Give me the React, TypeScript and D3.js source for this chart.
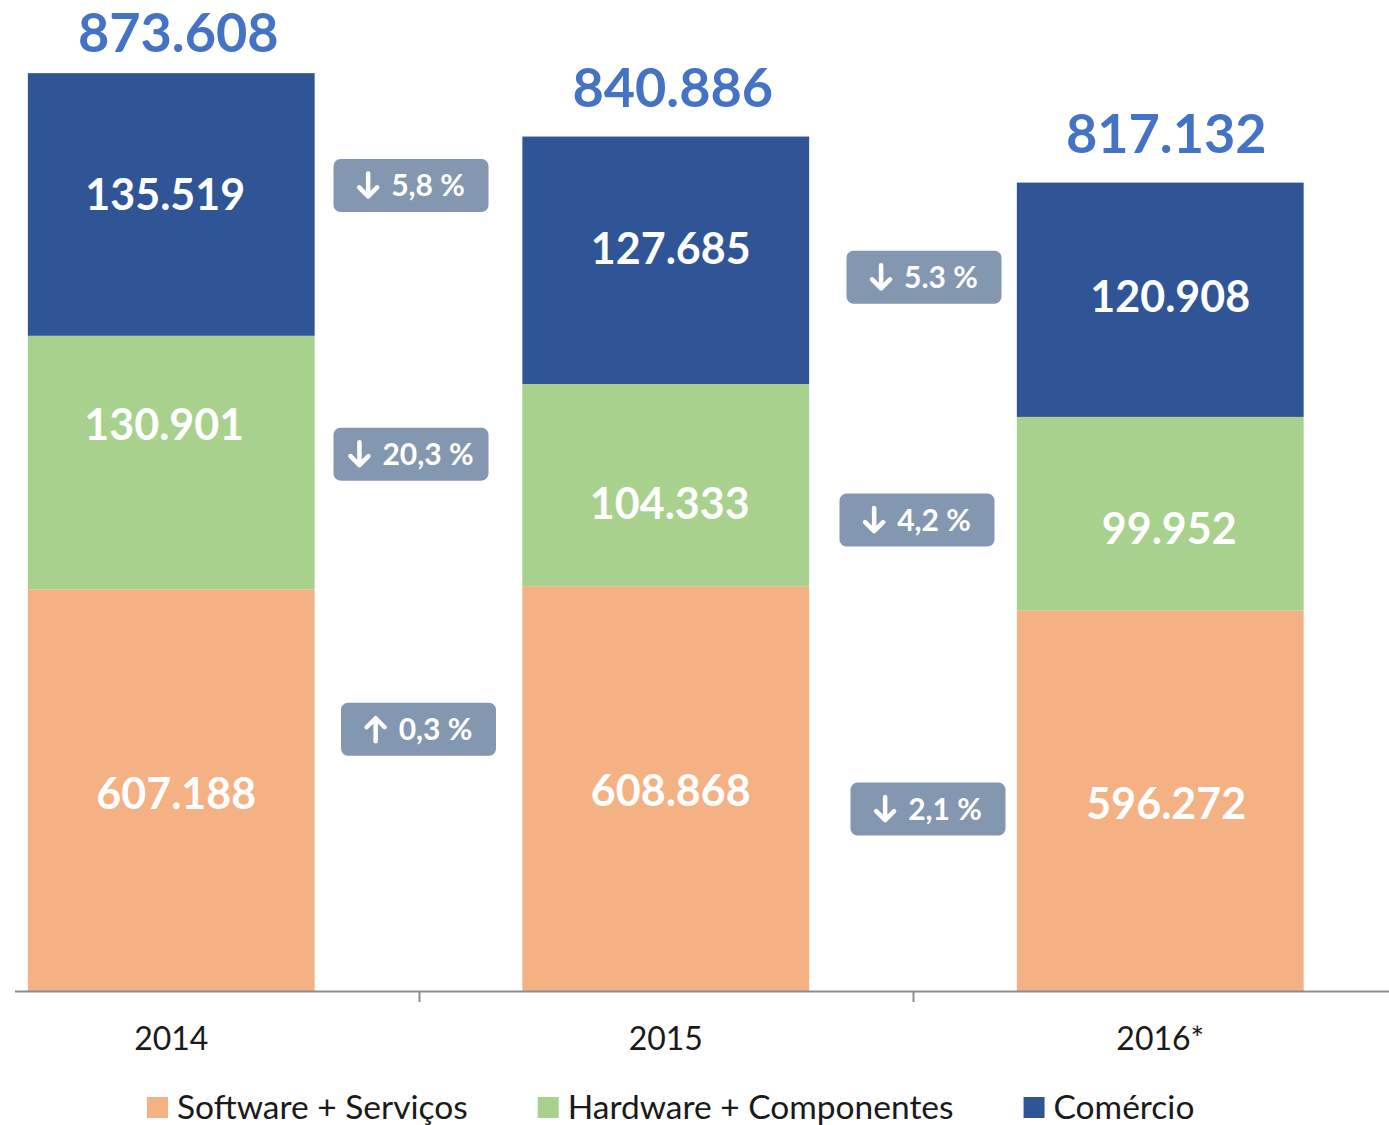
import React, { useEffect, useRef } from 'react';
import * as d3 from 'd3';

const years = ['2014', '2015', '2016*'];
const software = [607.188, 608.868, 596.272];
const hardware = [130.901, 104.333, 99.952];
const comercio = [135.519, 127.685, 120.908];
const totals = [873.608, 840.886, 817.132];
const seriesKeys = ['software', 'hardware', 'comercio'];
const seriesNames = ['Software + Serviços', 'Hardware + Componentes', 'Comércio'];
const seriesColors = ['#F4B183', '#A9D18E', '#2F5597'];
// year-over-year change badges (between consecutive years)
const changeText = {
  software: ['0,3 %', '2,1 %'],
  hardware: ['20,3 %', '4,2 %'],
  comercio: ['5,8 %', '5.3 %'],
};
const changeDir = {
  software: ['up', 'down'],
  hardware: ['down', 'down'],
  comercio: ['down', 'down'],
};
const yMin = 400;
const yMax = 900;

// layout tweaks (pixels) for hand-placed labels
const labelDx = {
  software: [5, 5, 6],
  hardware: [-7, 4, 9],
  comercio: [-6, 5, 10],
};
const labelDy = {
  software: [3, 2, 3],
  hardware: [-38, 18, 15],
  comercio: [-10, -12, -3],
};
const totalDy = [-21, -30, -30];
const totalDx = [7, 7, 6];
const badgeDx = {
  software: [0, 15],
  hardware: [-7.5, 4],
  comercio: [-7.5, 11],
};
const badgeDy = {
  software: [-61, 20.5],
  hardware: [-8.5, 35],
  comercio: [-19, 17],
};

export default function App() {
  const ref = useRef<SVGSVGElement>(null);
  useEffect(() => {
    const svg = d3.select(ref.current);
    svg.selectAll('*').remove();
    const font = "Lato, 'Open Sans', sans-serif";
    const baseY = 991;

    const x = d3.scaleBand<string>().domain(years).range([-76, 1407.5]).paddingInner(0.42).paddingOuter(0.21);
    const y = d3.scaleLinear().domain([yMin, yMax]).range([baseY, 22]).clamp(true);
    const fmt = d3.format('.3f');

    const rows = years.map((yr, i) => ({ year: yr, software: software[i], hardware: hardware[i], comercio: comercio[i] }));
    const stack = d3.stack<any>().keys(seriesKeys);
    const series = stack(rows);

    const g = svg.append('g');
    series.forEach((s, si) => {
      const key = seriesKeys[si];
      g.selectAll(null)
        .data(s)
        .enter()
        .append('rect')
        .attr('x', (d: any) => x(d.data.year)!)
        .attr('width', x.bandwidth())
        .attr('y', (d: any) => y(d[1]))
        .attr('height', (d: any) => y(d[0]) - y(d[1]))
        .attr('fill', seriesColors[si]);

      g.selectAll(null)
        .data(s)
        .enter()
        .append('text')
        .attr('x', (d: any, i: number) => x(d.data.year)! + x.bandwidth() / 2 + (labelDx as any)[key][i])
        .attr('y', (d: any, i: number) => (y(d[0]) + y(d[1])) / 2 + (labelDy as any)[key][i] + 15.5)
        .attr('text-anchor', 'middle')
        .attr('font-family', font)
        .attr('font-weight', 700)
        .attr('font-size', 43)
        .attr('fill', '#fff')
        .text((d: any) => fmt(d.data[key]));
    });

    // totals
    g.selectAll(null)
      .data(totals)
      .enter()
      .append('text')
      .attr('x', (d, i) => x(years[i])! + x.bandwidth() / 2 + totalDx[i])
      .attr('y', (d, i) => y(d) + totalDy[i])
      .attr('text-anchor', 'middle')
      .attr('font-family', font)
      .attr('font-weight', 700)
      .attr('font-size', 54)
      .attr('fill', '#4472C4')
      .text((d) => fmt(d));

    // badges
    const bw = 155, bh = 53;
    const step = x.step();
    seriesKeys.forEach((key, si) => {
      const s = series[si];
      for (let i = 0; i < years.length - 1; i++) {
        const gapCx = x(years[i])! + x.bandwidth() + (step - x.bandwidth()) / 2;
        const d = s[i] as any;
        const mid = (y(d[0]) + y(d[1])) / 2;
        const cx = gapCx + (badgeDx as any)[key][i];
        const cy = mid + (badgeDy as any)[key][i];
        const bg = g.append('g');
        bg.append('rect')
          .attr('x', cx - bw / 2)
          .attr('y', cy - bh / 2)
          .attr('width', bw)
          .attr('height', bh)
          .attr('rx', 7)
          .attr('fill', '#8497B0');
        const t = bg.append('text')
          .attr('y', cy + 10.5)
          .attr('font-family', font)
          .attr('font-weight', 700)
          .attr('font-size', 30)
          .attr('fill', '#fff')
          .text((changeText as any)[key][i]);
        const tw = (t.node() as SVGTextElement).getComputedTextLength();
        const arrowW = 22, gap = 12;
        const total = arrowW + gap + tw;
        const left = cx - total / 2;
        t.attr('x', left + arrowW + gap);
        const ax = left + arrowW / 2;
        const up = (changeDir as any)[key][i] === 'up';
        const top = cy - 12, bot = cy + 12;
        const p = up
          ? `M${ax},${bot} L${ax},${top + 2} M${ax - 9},${top + 10} L${ax},${top + 1} L${ax + 9},${top + 10}`
          : `M${ax},${top} L${ax},${bot - 2} M${ax - 9},${bot - 10} L${ax},${bot - 1} L${ax + 9},${bot - 10}`;
        bg.append('path')
          .attr('d', p)
          .attr('fill', 'none')
          .attr('stroke', '#fff')
          .attr('stroke-width', 4.5)
          .attr('stroke-linecap', 'round')
          .attr('stroke-linejoin', 'round');
      }
    });

    // axis
    g.append('line')
      .attr('x1', 15).attr('x2', 1389)
      .attr('y1', baseY + 0.5).attr('y2', baseY + 0.5)
      .attr('stroke', '#8C8C8C').attr('stroke-width', 2);
    for (let i = 0; i < years.length - 1; i++) {
      const tx = Math.round(x(years[i])! + x.bandwidth() + (step - x.bandwidth()) / 2) + 0.5;
      g.append('line')
        .attr('x1', tx).attr('x2', tx)
        .attr('y1', baseY).attr('y2', baseY + 11)
        .attr('stroke', '#8C8C8C').attr('stroke-width', 2);
    }
    g.selectAll(null)
      .data(years)
      .enter()
      .append('text')
      .attr('x', (d) => x(d)! + x.bandwidth() / 2)
      .attr('y', 1050)
      .attr('text-anchor', 'middle')
      .attr('font-family', font)
      .attr('font-size', 32)
      .attr('fill', '#1a1a1a')
      .text((d) => d);

    // legend
    let lx = 147;
    seriesNames.forEach((name, i) => {
      g.append('rect')
        .attr('x', lx).attr('y', 1097)
        .attr('width', 21).attr('height', 21)
        .attr('fill', seriesColors[i]);
      const t = g.append('text')
        .attr('x', lx + 30).attr('y', 1119)
        .attr('font-family', font)
        .attr('font-size', 33.5)
        .attr('fill', '#1a1a1a')
        .text(name);
      const tw = (t.node() as SVGTextElement).getComputedTextLength();
      lx = lx + 30 + tw + 70;
    });
  }, []);

  return (
    <svg
      ref={ref}
      width={1389}
      height={1125}
      style={{ position: 'absolute', left: 0, top: 0, background: '#fff' }}
    />
  );
}
